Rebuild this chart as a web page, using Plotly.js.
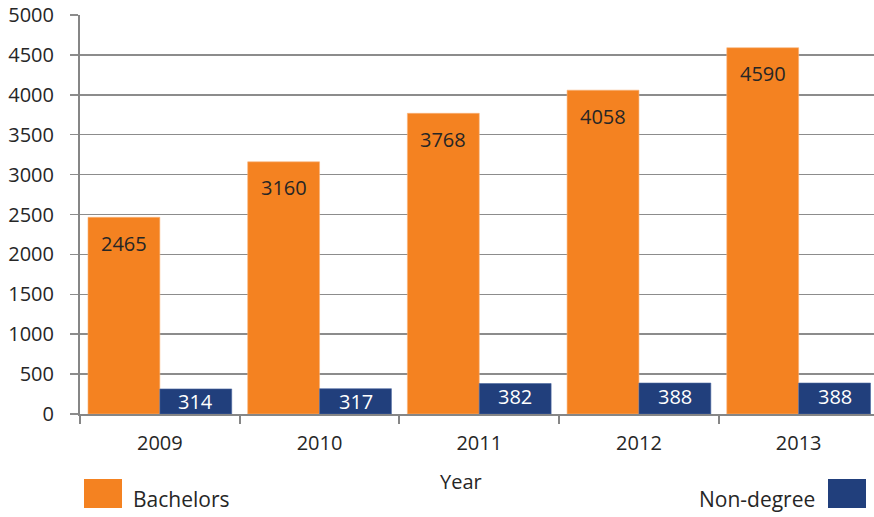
<!DOCTYPE html>
<html>
<head>
<meta charset="utf-8">
<script src="https://cdn.plot.ly/plotly-3.0.1.min.js"></script>
<style>
html,body{margin:0;padding:0;overflow:hidden;background:#fff;}
#chart{width:874px;height:517px;}
</style>
</head>
<body>
<div id="chart"></div>
<script>
// ---- data ----
const years = ['2009', '2010', '2011', '2012', '2013'];
const bachelors = [2465, 3160, 3768, 4058, 4590];
const nonDegree = [314, 317, 382, 388, 388];
const seriesNames = ['Bachelors', 'Non-degree'];
const yTicks = [0, 500, 1000, 1500, 2000, 2500, 3000, 3500, 4000, 4500, 5000];
const xTitle = 'Year';

// ---- styles ----
const ORANGE = '#F48221';
const NAVY = '#213F7C';
const FONT = 'Open Sans, Noto Sans, sans-serif';
const GRID = '#8C8C8C';

// plot area in pixels: left 80, right 874, top 15, bottom 414
const L = 80, R = 874, T = 15, B = 414;
const px2x = p => (p - L) / (R - L);
const px2y = p => (B - p) / (B - T);

const traces = [
  {
    type: 'bar', name: seriesNames[0], x: years, y: bachelors,
    marker: {color: ORANGE, line: {color: '#F9B37A', width: 0.6}},
    hoverinfo: 'x+y+name'
  },
  {
    type: 'bar', name: seriesNames[1], x: years, y: nonDegree,
    marker: {color: NAVY, line: {color: '#4A66A0', width: 0.6}},
    hoverinfo: 'x+y+name'
  }
];

// value labels (offset inside bars); x is the category index
const annotations = [];
years.forEach((yr, i) => {
  annotations.push({
    x: i, y: bachelors[i], xref: 'x', yref: 'y',
    text: String(bachelors[i]), showarrow: false,
    xshift: -36, yshift: -26, yanchor: 'middle', xanchor: 'center',
    font: {family: FONT, size: 20, color: '#262626'}
  });
  annotations.push({
    x: i, y: nonDegree[i], xref: 'x', yref: 'y',
    text: String(nonDegree[i]), showarrow: false,
    xshift: 36, yshift: -13, yanchor: 'middle', xanchor: 'center',
    font: {family: FONT, size: 20, color: '#FFFFFF'}
  });
});

// axis title
annotations.push({
  x: px2x(461), y: px2y(481), xref: 'paper', yref: 'paper',
  text: xTitle, showarrow: false, xanchor: 'center', yanchor: 'middle',
  font: {family: FONT, size: 20, color: '#262626'}
});

// legend texts
annotations.push({
  x: px2x(131), y: px2y(499), xref: 'paper', yref: 'paper',
  text: seriesNames[0], showarrow: false, xanchor: 'left', yanchor: 'middle',
  font: {family: FONT, size: 21, color: '#262626'}
});
annotations.push({
  x: px2x(817), y: px2y(499), xref: 'paper', yref: 'paper',
  text: seriesNames[1], showarrow: false, xanchor: 'right', yanchor: 'middle',
  font: {family: FONT, size: 21, color: '#262626'}
});

// legend swatches
const shapes = [
  {type: 'rect', xref: 'paper', yref: 'paper',
   x0: px2x(84), x1: px2x(122), y0: px2y(508), y1: px2y(479),
   fillcolor: ORANGE, line: {width: 0}},
  {type: 'rect', xref: 'paper', yref: 'paper',
   x0: px2x(828), x1: px2x(866), y0: px2y(508), y1: px2y(479),
   fillcolor: NAVY, line: {width: 0}}
];

const catWidth = 159.7;
const layout = {
  width: 874, height: 517,
  margin: {l: L, r: 874 - R, t: T, b: 517 - B, pad: 0},
  paper_bgcolor: '#fff', plot_bgcolor: '#fff',
  barmode: 'group', bargap: 0.1, bargroupgap: 0,
  showlegend: false,
  font: {family: FONT, size: 20, color: '#262626'},
  xaxis: {
    type: 'category',
    range: [-0.5, -0.5 + (R - L) / catWidth],
    showline: true, linecolor: '#868686', linewidth: 2,
    ticks: 'outside', ticklen: 8, tickcolor: '#868686', tickwidth: 2,
    tickson: 'boundaries',
    showgrid: false, zeroline: false,
    ticklabelstandoff: 10,
    tickfont: {family: FONT, size: 20, color: '#262626'}
  },
  yaxis: {
    range: [0, 5000],
    tickvals: yTicks,
    showline: true, linecolor: '#868686', linewidth: 2,
    ticks: 'outside', ticklen: 8, tickcolor: GRID, tickwidth: 1.5,
    showgrid: true, gridcolor: GRID, gridwidth: 1.5,
    zeroline: false,
    ticklabelstandoff: 12,
    tickfont: {family: FONT, size: 20, color: '#262626'}
  },
  annotations: annotations,
  shapes: shapes
};

Plotly.newPlot('chart', traces, layout, {displayModeBar: false, staticPlot: true});
</script>
</body>
</html>
